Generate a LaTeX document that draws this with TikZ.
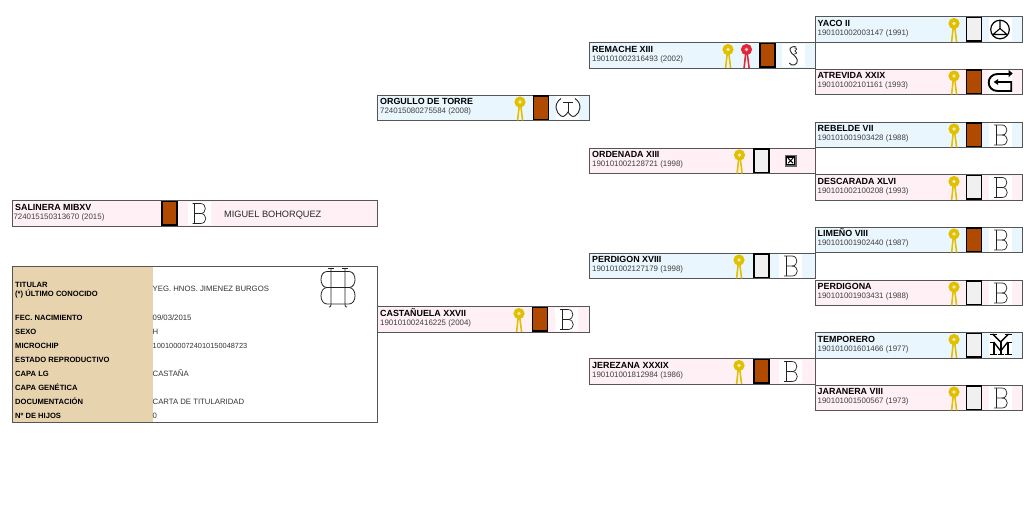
\documentclass[tikz,border=0pt]{standalone}
\usepackage{fontspec}
\setmainfont{Liberation Sans}
\definecolor{cblue}{HTML}{EAF6FE}
\definecolor{cpink}{HTML}{FFF0F5}
\definecolor{cbrown}{HTML}{B04A00}
\definecolor{cgrey}{HTML}{F0F0F0}
\definecolor{ctan}{HTML}{E8D3AF}
\definecolor{cyel}{HTML}{E0C000}
\definecolor{cred}{HTML}{E02838}
\definecolor{cedge}{HTML}{555555}
\definecolor{cink}{HTML}{222222}
\tikzset{
  rowbox/.style={draw=cedge,line width=0.9pt,anchor=north west,inner sep=0pt,outer sep=0pt,minimum height=25.5pt},
  titletext/.style={anchor=base west,inner sep=0pt,text=black,font=\fontsize{8.9}{10}\selectfont\bfseries},
  numtext/.style={anchor=base west,inner sep=0pt,text=black!75,font=\fontsize{7.9}{9}\selectfont},
  tablabel/.style={anchor=base west,inner sep=0pt,text=black,font=\fontsize{7.6}{9}\selectfont\bfseries},
  tabvalue/.style={anchor=base west,inner sep=0pt,text=black!80,font=\fontsize{7.75}{9}\selectfont},
  ownertext/.style={anchor=base west,inner sep=0pt,text=black!85,font=\fontsize{9.2}{12}\selectfont},
  swatchbox/.style={draw=black,line width=1.3pt,inner sep=0pt,outer sep=0pt,minimum width=15pt,minimum height=23.5pt,anchor=north west},
  logoback/.style={fill=white,inner sep=0pt,outer sep=0pt,minimum width=23pt,minimum height=23.5pt,anchor=north west},
  brandline/.style={draw=cink,line width=0.7pt},
  ribbon/.pic={
    \draw[#1,line width=1.6pt] (-0.8,4) -- (-2.4,18.5);
    \draw[#1,line width=1.6pt] (0.8,4) -- (2.6,18.5);
    \fill[#1] (0,0) circle (5.6);
    \fill[white!70!#1] (0,0) circle (1.9);
  },
  brandB/.pic={
    \draw[brandline] (-7,-10) -- (1,-10) .. controls (7.5,-10) and (7.5,0) .. (1,0) -- (-5,0);
    \draw[brandline] (1,0) .. controls (8,0) and (8,10) .. (1,10) -- (-7,10);
    \draw[brandline] (-5,-10) -- (-5,10);
  },
  brandH/.pic={
    \draw[cink,line width=0.8pt] (-7,-20) -- (-7,17) .. controls (-7,18.5) and (-8,19) .. (-9,19);
    \draw[cink,line width=0.8pt] (7,-20) -- (7,17) .. controls (7,18.5) and (8,19) .. (9,19);
    \draw[cink,line width=0.5pt] (-10,-20) -- (-4,-20) (4,-20) -- (10,-20);
    \draw[cink,line width=0.8pt] (-11,-16.5) -- (11,-16.5) .. controls (19,-16.5) and (19,-0.5) .. (11,-0.5) -- (-11,-0.5) .. controls (-19,-0.5) and (-19,-16.5) .. (-11,-16.5);
    \draw[cink,line width=0.8pt] (-11,-0.5) .. controls (-19,-0.5) and (-19,16) .. (-11,16) -- (11,16) .. controls (19,16) and (19,-0.5) .. (11,-0.5);
  },
  brandYaco/.pic={
    \draw[black,line width=1.2pt] (0,0) circle (9.3);
    \draw[black,line width=1.1pt] (0,-9) -- (0,-1) -- (-7,5) -- (7,5) -- (0,-1);
  },
  brandG/.pic={
    \draw[black,line width=1.9pt] (10,-8) -- (-3,-8) .. controls (-15,-8) and (-15,9) .. (-3,9) -- (10.5,9) -- (10.5,0) -- (-4,0);
    \fill[black] (-7,0) -- (-2.5,-3) -- (-2.5,3) -- cycle;
    \fill[black] (8,-12) -- (8,-5) -- (12,-8.5) -- cycle;
  },
  brandMY/.pic={
    \draw[black,line width=1pt] (-11,-11) -- (-4,-11) (4,-11) -- (11,-11);
    \draw[black,line width=1.4pt] (-8,-11) -- (0,-3) -- (8,-11);
    \draw[black,line width=1.8pt] (0,-3) -- (0,9);
    \draw[black,line width=1pt] (-11,-3) -- (-6,-3) (6,-3) -- (11,-3);
    \draw[black,line width=1.3pt] (-7,-3) -- (0,6) -- (7,-3);
    \draw[black,line width=1.6pt] (-7,-3) -- (-7,9) (7,-3) -- (7,9);
    \draw[black,line width=1.1pt] (-11,9.5) -- (-4,9.5) (-3,9.5) -- (3,9.5) (4,9.5) -- (11,9.5);
  },
  brandT/.pic={
    \draw[cink,line width=0.9pt] (-7,-9.5) .. controls (-15,-4) and (-12,5) .. (-7,8) .. controls (-4,9.5) and (-2,7) .. (0,4) .. controls (2,7) and (4,9.5) .. (7,8) .. controls (12,5) and (15,-4) .. (7,-9.5);
    \draw[cink,line width=0.9pt] (-5,-6) -- (5,-6) (0,-6) -- (0,4);
  },
  brandS/.pic={
    \draw[cink,line width=0.9pt] (3,-9) .. controls (-1,-10.5) and (-4.5,-8) .. (-3,-5) .. controls (-2,-2) and (3,0) .. (4,4) .. controls (5,9) and (-2,11) .. (-4,7);
    \draw[cink,line width=0.7pt] (1,-8) .. controls (4,-8.5) and (4,-5.5) .. (1.5,-5) .. controls (4,-4.5) and (4,-2) .. (1,-2);
  },
  brandBox/.pic={
    \fill[black!60] (-6,-6) rectangle (6,6);
    \fill[black] (-4.6,-4.6) rectangle (4.6,4.6);
    \fill[white] (-3.2,-3.2) rectangle (3.2,3.2);
    \draw[black,line width=1pt] (-2.5,-2.5) -- (2.5,2.5) (-2.5,2.5) -- (2.5,-2.5);
  },
}
% id, x, width, top, fill, title, number
\newcommand{\rowentry}[7]{%
  \node[rowbox,fill=#5,minimum width=#3pt] (#1) at (#2,#4) {};
  \node[titletext] (#1t) at ({#2+2.5},{#4+9.7}) {#6};
  \node[numtext] (#1n) at ({#2+2.5},{#4+18.8}) {#7};
}
% id, swatch x, logo x, top, swatch fill
\newcommand{\rowmarks}[5]{%
  \node[swatchbox,fill=#5] (#1s) at (#2,{#4+1}) {};
  \node[logoback] (#1l) at (#3,{#4+1}) {};
}
\begin{document}
\begin{tikzpicture}[x=1pt,y=-1pt]
\useasboundingbox (0,0) rectangle (1024,523);
\fill[white] (0,0) rectangle (1024,523);

% main animal
\node[rowbox,fill=cpink,minimum width=365pt] (sal) at (12,200.5) {};
\node[titletext] (salt) at (15,210.2) {SALINERA MIBXV};
\node[numtext] (saln) at (13.3,219.3) {724015150313670 (2015)};
\rowmarks{sal}{162}{188}{200.5}{cbrown}
\pic at (199.5,213.5) {brandB};
\node[ownertext] (salo) at (224,217.7) {MIGUEL BOHORQUEZ};

% table
\fill[ctan] (12.5,267) rectangle (152.5,422);
\node[draw=cedge,line width=0.9pt,anchor=north west,inner sep=0pt,outer sep=0pt,minimum width=365pt,minimum height=156pt] (tab) at (12,266.5) {};
\node[tablabel] (l1) at (15,287.7) {TITULAR};
\node[tablabel] (l2) at (15,296.4) {(*) ÚLTIMO CONOCIDO};
\node[tablabel] (l3) at (15,320.4) {FEC. NACIMIENTO};
\node[tablabel] (l4) at (15,334.4) {SEXO};
\node[tablabel] (l5) at (15,348.4) {MICROCHIP};
\node[tablabel] (l6) at (15,362.4) {ESTADO REPRODUCTIVO};
\node[tablabel] (l7) at (15,376.4) {CAPA LG};
\node[tablabel] (l8) at (15,390.4) {CAPA GENÉTICA};
\node[tablabel] (l9) at (15,404.4) {DOCUMENTACIÓN};
\node[tablabel] (l10) at (15,418.4) {Nº DE HIJOS};
\node[tabvalue] (v1) at (152.5,291.6) {YEG. HNOS. JIMENEZ BURGOS};
\node[tabvalue] (v3) at (152.5,320.4) {09/03/2015};
\node[tabvalue] (v4) at (152.5,334.4) {H};
\node[tabvalue,font=\fontsize{7.4}{9}\selectfont] (v5) at (152.5,348.4) {10010000724010150048723};
\node[tabvalue] (v7) at (152.5,376.4) {CASTAÑA};
\node[tabvalue] (v9) at (152.5,404.4) {CARTA DE TITULARIDAD};
\node[tabvalue] (v10) at (152.5,418.4) {0};
\pic at (338,288) {brandH};

% parents
\rowentry{org}{377.5}{211.5}{95}{cblue}{ORGULLO DE TORRE}{724015080275584 (2008)}
\rowmarks{org}{533.5}{556}{95}{cbrown}
\pic at (520,102) {ribbon=cyel};
\pic at (568,108) {brandT};

\rowentry{cas}{377.5}{211.5}{306.5}{cpink}{CASTAÑUELA XXVII}{190101002416225 (2004)}
\rowmarks{cas}{532.5}{555}{306.5}{cbrown}
\pic at (519,313.5) {ribbon=cyel};
\pic at (567,319.5) {brandB};

% grandparents
\rowentry{rem}{589.5}{225.5}{42.5}{cblue}{REMACHE XIII}{190101002316493 (2002)}
\rowmarks{rem}{760}{782}{42.5}{cbrown}
\pic at (728,49.5) {ribbon=cyel};
\pic at (746.5,49.5) {ribbon=cred};
\pic at (793.3,56) {brandS};

\rowentry{ord}{589.5}{225.5}{148}{cpink}{ORDENADA XIII}{190101002128721 (1998)}
\node[swatchbox,fill=cgrey] (ords) at (754,149) {};
\pic at (739.5,155) {ribbon=cyel};
\pic at (790.5,160.7) {brandBox};

\rowentry{per}{589.5}{225.5}{253}{cblue}{PERDIGON XVIII}{190101002127179 (1998)}
\rowmarks{per}{754}{779}{253}{cgrey}
\pic at (739,260) {ribbon=cyel};
\pic at (791,266) {brandB};

\rowentry{jer}{589.5}{225.5}{358.5}{cpink}{JEREZANA XXXIX}{190101001812984 (1986)}
\rowmarks{jer}{754}{779}{358.5}{cbrown}
\pic at (739,365.5) {ribbon=cyel};
\pic at (791,371.5) {brandB};

% great-grandparents
\rowentry{yac}{815}{207}{16.5}{cblue}{YACO II}{190101002003147 (1991)}
\rowmarks{yac}{966.5}{989}{16.5}{cgrey}
\pic at (954,23.5) {ribbon=cyel};
\pic at (1000,29.5) {brandYaco};

\rowentry{atr}{815}{207}{69}{cpink}{ATREVIDA XXIX}{190101002101161 (1993)}
\rowmarks{atr}{966.5}{989}{69}{cbrown}
\pic at (954,76) {ribbon=cyel};
\pic at (1000.7,82) {brandG};

\rowentry{reb}{815}{207}{122}{cblue}{REBELDE VII}{190101001903428 (1988)}
\rowmarks{reb}{966.5}{989}{122}{cbrown}
\pic at (954,129) {ribbon=cyel};
\pic at (1001,135) {brandB};

\rowentry{des}{815}{207}{174.5}{cpink}{DESCARADA XLVI}{190101002100208 (1993)}
\rowmarks{des}{966.5}{989}{174.5}{cgrey}
\pic at (954,181.5) {ribbon=cyel};
\pic at (1001,187.5) {brandB};

\rowentry{lim}{815}{207}{227}{cblue}{LIMEÑO VIII}{190101001902440 (1987)}
\rowmarks{lim}{966.5}{989}{227}{cbrown}
\pic at (954,234) {ribbon=cyel};
\pic at (1001,240) {brandB};

\rowentry{prd}{815}{207}{280}{cpink}{PERDIGONA}{190101001903431 (1988)}
\rowmarks{prd}{966.5}{989}{280}{cgrey}
\pic at (954,287) {ribbon=cyel};
\pic at (1001,293) {brandB};

\rowentry{tem}{815}{207}{332.5}{cblue}{TEMPORERO}{190101001601466 (1977)}
\rowmarks{tem}{966.5}{989}{332.5}{cgrey}
\pic at (954,339.5) {ribbon=cyel};
\pic at (1000.7,345) {brandMY};

\rowentry{jar}{815}{207}{385}{cpink}{JARANERA VIII}{190101001500567 (1973)}
\rowmarks{jar}{966.5}{989}{385}{cgrey}
\pic at (954,392) {ribbon=cyel};
\pic at (1001,398) {brandB};
\end{tikzpicture}
\end{document}
